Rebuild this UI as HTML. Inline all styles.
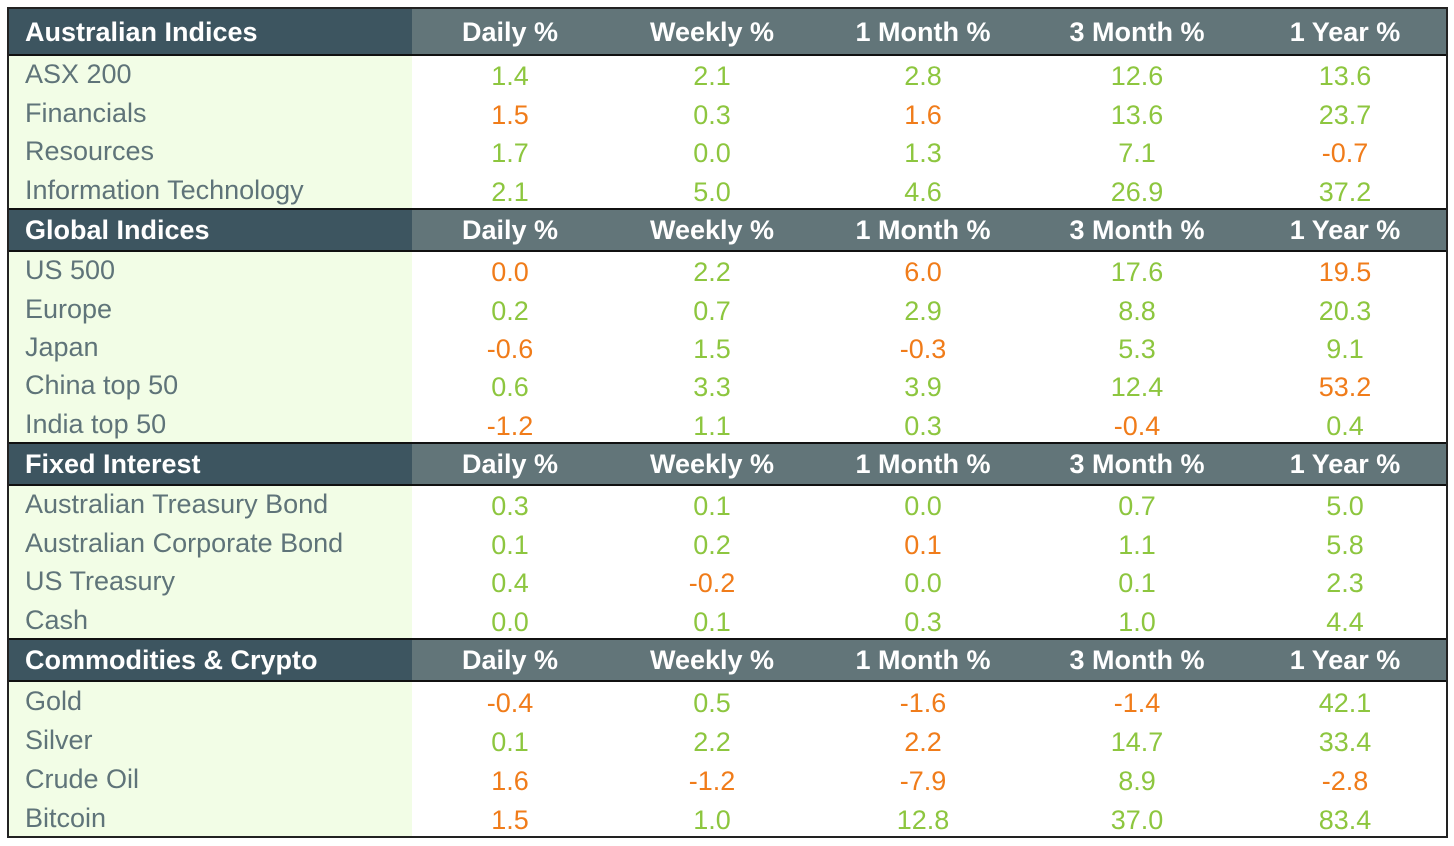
<!DOCTYPE html>
<html><head><meta charset="utf-8"><style>
body{margin:0;width:1454px;height:846px;background:#fff;position:relative;overflow:hidden;font-family:"Liberation Sans",Arial,sans-serif}
.a{position:absolute;box-sizing:border-box}
.t{position:absolute;white-space:nowrap;font-size:27px;line-height:38px;transform:translateX(-50%)}
.h{font-weight:bold;color:#fff}
</style></head><body>
<div id="root"></div>
<script>
const sections=["Australian Indices","Global Indices","Fixed Interest","Commodities & Crypto"];
const columns=["Daily %","Weekly %","1 Month %","3 Month %","1 Year %"];
const rowLabels=[["ASX 200","Financials","Resources","Information Technology"],["US 500","Europe","Japan","China top 50","India top 50"],["Australian Treasury Bond","Australian Corporate Bond","US Treasury","Cash"],["Gold","Silver","Crude Oil","Bitcoin"]];
const values=[
[["1.4","2.1","2.8","12.6","13.6"],["1.5","0.3","1.6","13.6","23.7"],["1.7","0.0","1.3","7.1","-0.7"],["2.1","5.0","4.6","26.9","37.2"]],
[["0.0","2.2","6.0","17.6","19.5"],["0.2","0.7","2.9","8.8","20.3"],["-0.6","1.5","-0.3","5.3","9.1"],["0.6","3.3","3.9","12.4","53.2"],["-1.2","1.1","0.3","-0.4","0.4"]],
[["0.3","0.1","0.0","0.7","5.0"],["0.1","0.2","0.1","1.1","5.8"],["0.4","-0.2","0.0","0.1","2.3"],["0.0","0.1","0.3","1.0","4.4"]],
[["-0.4","0.5","-1.6","-1.4","42.1"],["0.1","2.2","2.2","14.7","33.4"],["1.6","-1.2","-7.9","8.9","-2.8"],["1.5","1.0","12.8","37.0","83.4"]]];
const orangeVals=[[[0,1],[2,1],[2,4]],[[0,0],[2,0],[2,2],[4,0],[4,3]],[[2,1]],[[0,0],[0,2],[0,3],[2,1],[2,2],[2,4]]];
const root=document.getElementById('root');
const L=8,R=1447,labW=404,colX=[510,712,923,1137,1345],rowH=38;
const secTop=[8,209,443,639],hdrH=[47,42,42,42];
function mk(cls,css,txt){const e=document.createElement('div');e.className=cls;e.style.cssText=css;if(txt!=null)e.textContent=txt;root.appendChild(e);return e;}
sections.forEach((s,si)=>{
  const top=secTop[si],hh=hdrH[si];
  const n=rowLabels[si].length;
  const end=si<3?secTop[si+1]:838;
  let e=mk('a',`left:${L}px;top:${top}px;width:${labW}px;height:${hh}px;background:#3d5560`);
  
  e=mk('a',`left:${L+labW}px;top:${top}px;width:${R-L-labW}px;height:${hh}px;background:#627579`);
  
  e=mk('a',`left:${L}px;top:${top+hh}px;width:${labW}px;height:${end-top-hh}px;background:#f2fde6`);
  
  e=mk('a',`left:${L}px;top:${top+hh-1}px;width:${R-L}px;height:2px;background:#111`);
  
  e=mk('a',`left:${L}px;top:${top-1}px;width:${R-L}px;height:2px;background:#111`);
  
  const hy=top+(hh-38)/2;
  e=mk('t h',`left:25px;top:${hy}px;transform:none`,s);
  
  columns.forEach((c,ci)=>{e=mk('t h',`left:${colX[ci]}px;top:${hy}px`,c);
    });
  const rh=(end-top-hh)/n;
  rowLabels[si].forEach((lab,ri)=>{
    const y=top+hh+ri*rh+(rh-38)/2;
    e=mk('t',`left:25px;top:${y}px;transform:none;color:#5f7479`,lab);
    
    values[si][ri].forEach((v,ci)=>{
      const neg=parseFloat(v)<0||orangeVals[si].some(p=>p[0]==ci&&p[1]==ri);
      e=mk('t',`left:${colX[ci]}px;top:${y+2}px;color:${neg?'#f07c1a':'#8dc63f'}`,v);
      
    });
  });
});
let b=mk('a',`left:${L-1}px;top:7px;width:${R-L+2}px;height:${838-7}px;border:2px solid #222`);

</script>
</body></html>
